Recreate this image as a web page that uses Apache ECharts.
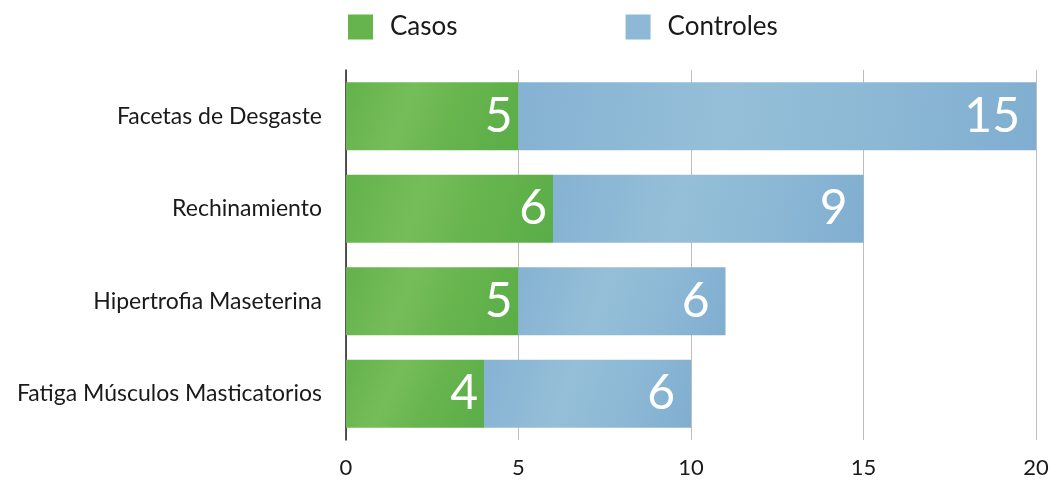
<!DOCTYPE html>
<html>
<head>
<meta charset="utf-8">
<script src="https://cdn.jsdelivr.net/npm/echarts@6/dist/echarts.min.js"></script>
<style>
  html, body { margin: 0; padding: 0; background: #ffffff; }
  #chart { width: 1056px; height: 482px; }
</style>
</head>
<body>
<div id="chart"></div>
<script>
// Signos clínicos: casos frente a controles
const categories = [
  'Facetas de Desgaste',
  'Rechinamiento',
  'Hipertrofia Maseterina',
  'Fatiga Músculos Masticatorios'
];
const casos = [5, 6, 5, 4];
const controles = [15, 9, 6, 6];
const xTicks = [0, 5, 10, 15, 20];

const FONT = 'Lato, "Open Sans", sans-serif';

const greenFill = new echarts.graphic.LinearGradient(0, 0, 1, 1, [
  { offset: 0, color: '#63b24a' },
  { offset: 0.35, color: '#76bd5a' },
  { offset: 0.6, color: '#68b54e' },
  { offset: 1, color: '#5aad48' }
]);
const blueFill = new echarts.graphic.LinearGradient(0, 0, 1, 1, [
  { offset: 0, color: '#86b2d3' },
  { offset: 0.4, color: '#95bfd8' },
  { offset: 0.7, color: '#8cb8d5' },
  { offset: 1, color: '#80aed0' }
]);

const chart = echarts.init(document.getElementById('chart'), null, { renderer: 'canvas' });

chart.setOption({
  animation: false,
  backgroundColor: '#ffffff',
  textStyle: { fontFamily: FONT },
  legend: {
    top: 9,
    left: 343,
    icon: 'rect',
    itemWidth: 25,
    itemHeight: 25,
    itemGap: 168,
    textStyle: { fontSize: 26, color: '#1a1a1a', fontFamily: FONT, padding: [0, 0, 0, 12] },
    data: [
      { name: 'Casos', itemStyle: { color: '#66b44c' } },
      { name: 'Controles', itemStyle: { color: '#8db8d6' } }
    ]
  },
  grid: { left: 346, right: 20, top: 70, bottom: 42, containLabel: false },
  xAxis: {
    type: 'value',
    min: 0,
    max: 20,
    interval: 5,
    axisLine: { show: false },
    axisTick: { show: false },
    axisLabel: {
      fontSize: 22,
      color: '#1a1a1a',
      margin: 17,
      fontFamily: FONT,
      formatter: v => (xTicks.indexOf(v) >= 0 ? String(v) : '')
    },
    splitLine: { show: true, lineStyle: { color: '#bdbdbd', width: 1 } }
  },
  yAxis: {
    type: 'category',
    inverse: true,
    data: categories,
    axisLine: { show: true, lineStyle: { color: '#222222', width: 1.5 } },
    axisTick: { show: false },
    axisLabel: { fontSize: 23, color: '#1a1a1a', margin: 24, fontFamily: FONT }
  },
  series: [
    {
      name: 'Casos',
      type: 'bar',
      stack: 'total',
      barWidth: 68,
      data: casos,
      itemStyle: { color: greenFill },
      label: {
        show: true,
        position: 'insideRight',
        distance: 6,
        color: '#ffffff',
        fontSize: 48,
        fontFamily: FONT
      }
    },
    {
      name: 'Controles',
      type: 'bar',
      stack: 'total',
      barWidth: 68,
      data: controles,
      itemStyle: { color: blueFill },
      label: {
        show: true,
        position: 'insideRight',
        distance: 16,
        color: '#ffffff',
        fontSize: 48,
        fontFamily: FONT
      }
    }
  ]
});
</script>
</body>
</html>
